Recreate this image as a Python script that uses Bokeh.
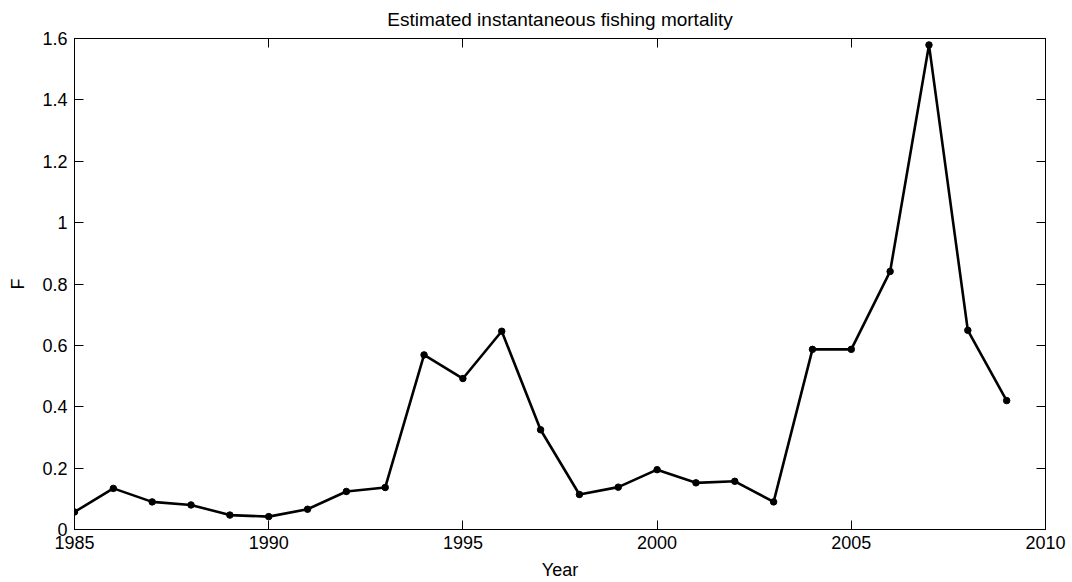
from bokeh.plotting import figure
from bokeh.models import Range1d, LinearAxis, FixedTicker
from bokeh.embed import file_html
from bokeh.resources import INLINE

years = list(range(1985, 2010))
F = [0.057, 0.134, 0.090, 0.080, 0.047, 0.042, 0.066, 0.124, 0.137, 0.569,
     0.492, 0.646, 0.325, 0.114, 0.138, 0.195, 0.152, 0.157, 0.090, 0.587,
     0.587, 0.841, 1.579, 0.649, 0.420]
x_ticks = [1985, 1990, 1995, 2000, 2005, 2010]
y_ticks = [0, 0.2, 0.4, 0.6, 0.8, 1.0, 1.2, 1.4, 1.6]
y_tick_labels = ["0", "0.2", "0.4", "0.6", "0.8", "1", "1.2", "1.4", "1.6"]

FONT = "Liberation Sans"

p = figure(width=1072, height=582, output_backend="svg", toolbar_location=None,
           x_range=Range1d(1985, 2010), y_range=Range1d(0, 1.6),
           min_border_left=74, min_border_right=27, min_border_top=38, min_border_bottom=53,
           x_axis_label="Year", y_axis_label="F",
           title="Estimated instantaneous fishing mortality")
p.title.align = "center"
p.title.text_font = FONT
p.title.text_font_size = "19px"
p.title.text_font_style = "normal"
p.title.text_color = "black"
p.title.offset = 0
p.title.standoff = 14
p.title.vertical_align = "top"
p.grid.visible = False
p.outline_line_color = "black"
p.outline_line_width = 1
p.background_fill_color = "white"
p.border_fill_color = "white"

p.xaxis.ticker = FixedTicker(ticks=x_ticks)
p.yaxis.ticker = FixedTicker(ticks=y_ticks)
p.yaxis.major_label_overrides = {v: s for v, s in zip(y_ticks, y_tick_labels)}

for ax in [p.xaxis[0], p.yaxis[0]]:
    ax.major_tick_in = 9
    ax.major_tick_out = 0
    ax.minor_tick_line_color = None
    ax.axis_line_color = "black"
    ax.major_tick_line_color = "black"
    ax.major_label_text_font = FONT
    ax.major_label_text_font_size = "18px"
    ax.major_label_text_color = "black"
    ax.axis_label_text_font = FONT
    ax.axis_label_text_font_size = "18px"
    ax.axis_label_text_font_style = "normal"
    ax.axis_label_text_color = "black"
p.xaxis.major_label_standoff = 6
p.yaxis.major_label_standoff = 7
p.xaxis.axis_label_standoff = 8
p.yaxis.axis_label_standoff = 11

top = LinearAxis(ticker=FixedTicker(ticks=x_ticks), major_label_text_color=None,
                 major_tick_in=9, major_tick_out=0, minor_tick_line_color=None,
                 axis_line_color="black", major_label_standoff=0)
right = LinearAxis(ticker=FixedTicker(ticks=y_ticks), major_label_text_color=None,
                   major_tick_in=9, major_tick_out=0, minor_tick_line_color=None,
                   axis_line_color="black", major_label_standoff=0)
p.add_layout(top, "above")
p.add_layout(right, "right")

p.line(years, F, line_color="black", line_width=2.6)
p.scatter(years, F, size=6.5, fill_color="black", line_color="black")

open("out.html", "w").write(file_html(p, INLINE))
